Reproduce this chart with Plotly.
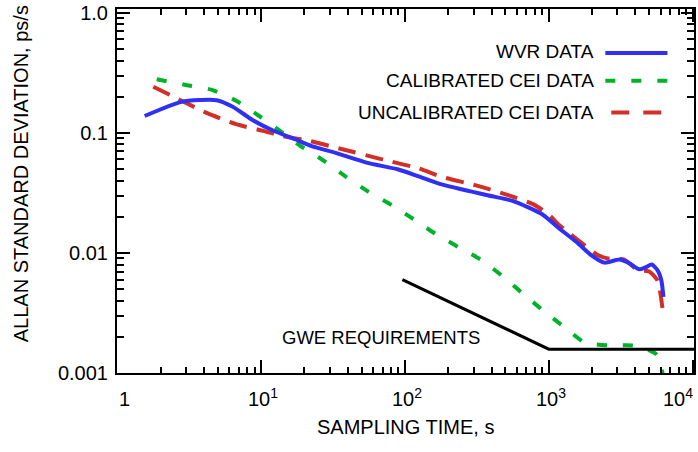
import math
import plotly.graph_objects as go

# ---------------- data ----------------
wvr_x = [1.55, 2.8, 4.9, 6.35, 8.7, 12, 17.4, 22.5, 33, 55, 90, 123, 177, 375, 560, 900,
         1160, 1600, 1970, 2440, 3100, 3630, 4260, 4730, 5200, 5700, 6070, 6270]
wvr_y = [0.138, 0.181, 0.187, 0.165, 0.128, 0.105, 0.088, 0.0775, 0.068, 0.0562, 0.0495, 0.0436,
         0.0374, 0.0302, 0.0271, 0.0210, 0.0163, 0.0120, 0.0096, 0.0083, 0.0088, 0.0082, 0.0073,
         0.0076, 0.0080, 0.0072, 0.0059, 0.0043]

cal_x = [1.88, 3.0, 4.6, 6.7, 9.7, 13.4, 18.4, 28, 39, 56, 81, 118, 162, 235, 341, 470, 645,
         890, 1290, 1770, 2570, 3930, 5600, 6300]
cal_y = [0.279, 0.25, 0.227, 0.185, 0.138, 0.105, 0.079, 0.0573, 0.043, 0.0322, 0.025, 0.0187,
         0.0145, 0.0112, 0.0087, 0.0065, 0.0047, 0.0034, 0.0024, 0.0018, 0.0017, 0.00169,
         0.00143, 0.0009]

uncal_x = [1.78, 2.8, 4.26, 6.7, 10.5, 14.1, 20.5, 35, 73, 125, 180, 307, 522, 800, 1040, 1160,
           1770, 2190, 2570, 3350, 4140, 4990, 5700, 6270]
uncal_y = [0.242, 0.185, 0.145, 0.118, 0.1033, 0.0939, 0.0869, 0.0741, 0.0592, 0.0505, 0.043,
           0.0367, 0.0303, 0.025, 0.020, 0.0174, 0.0116, 0.0096, 0.0090, 0.0088, 0.0072, 0.0070,
           0.0059, 0.0030]

gwe_x = [96, 1000, 20000]
gwe_y = [0.006, 0.00158, 0.00158]

x_tick_vals = [1, 10, 100, 1000, 10000]
x_tick_text = ["1", "10<sup>1</sup>", "10<sup>2</sup>", "10<sup>3</sup>", "10<sup>4</sup>"]
y_tick_vals = [0.001, 0.01, 0.1, 1]
y_tick_text = ["0.001", "0.01", "0.1", "1.0"]

series_names = ["WVR DATA", "CALIBRATED CEI DATA", "UNCALIBRATED CEI DATA"]
x_title = "SAMPLING TIME, s"
y_title = "ALLAN STANDARD DEVIATION, ps/s"
gwe_label = "GWE REQUIREMENTS"

# ---------------- styling ----------------
FONT = "Liberation Sans, Arial, Helvetica, sans-serif"
BLUE = "#2f2ff5"
GREEN = "#00b22a"
RED = "#d32f26"

def minor_vals(lo, hi):
    out = []
    for e in range(lo, hi):
        for m in range(2, 10):
            out.append(m * 10 ** e)
    return out

fig = go.Figure()
fig.add_trace(go.Scatter(x=uncal_x, y=uncal_y, mode="lines",
                         line=dict(color=RED, width=4, dash="18px,10px", shape="spline", smoothing=0.6)))
fig.add_trace(go.Scatter(x=cal_x, y=cal_y, mode="lines",
                         line=dict(color=GREEN, width=4, dash="10px,16px", shape="spline", smoothing=0.6)))
fig.add_trace(go.Scatter(x=wvr_x, y=wvr_y, mode="lines",
                         line=dict(color=BLUE, width=4, shape="spline", smoothing=0.6)))
fig.add_trace(go.Scatter(x=gwe_x, y=gwe_y, mode="lines",
                         line=dict(color="black", width=3)))

axis_common = dict(type="log", showgrid=False, zeroline=False, showline=True, linewidth=2,
                   linecolor="black", mirror="allticks", ticks="inside", ticklen=13,
                   tickwidth=1.5, tickcolor="black")

fig.update_xaxes(**axis_common, range=[-0.002, 4.01], tickmode="array", tickvals=x_tick_vals,
                 showticklabels=False,
                 minor=dict(ticks="inside", ticklen=6, tickwidth=1.5, tickcolor="black",
                            tickmode="array", tickvals=minor_vals(0, 4), showgrid=False))
fig.update_yaxes(**axis_common, range=[-3, 0.031], tickmode="array", tickvals=y_tick_vals,
                 ticktext=y_tick_text, tickfont=dict(family=FONT, size=20, color="black"),
                 ticklabelstandoff=3,
                 minor=dict(ticks="inside", ticklen=7, tickwidth=1.5, tickcolor="black",
                            tickmode="array", tickvals=minor_vals(-3, 0), showgrid=False))

annotations = []
for i, (v, t) in enumerate(zip(x_tick_vals, x_tick_text)):
    if i == 0:
        anchor, shift = "center", 7
    elif i == len(x_tick_vals) - 1:
        anchor, shift = "right", 2
    else:
        anchor, shift = "center", 2
    annotations.append(dict(x=math.log10(v), y=-0.107, xref="x", yref="paper", text=t,
                            showarrow=False, xanchor=anchor, yanchor="bottom", xshift=shift,
                            font=dict(family=FONT, size=20, color="black")))

annotations.append(dict(x=0.5, y=-0.1485, xref="paper", yref="paper", text=x_title,
                        showarrow=False, xanchor="center", yanchor="middle",
                        font=dict(family=FONT, size=20, color="black")))
annotations.append(dict(x=-0.1658, y=0.547, xref="paper", yref="paper", text=y_title,
                        showarrow=False, xanchor="center", yanchor="middle", textangle=-90,
                        font=dict(family=FONT, size=20, color="black")))
annotations.append(dict(x=math.log10(341), y=math.log10(0.00196), xref="x", yref="y",
                        text=gwe_label, showarrow=False, xanchor="right", yanchor="middle",
                        font=dict(family=FONT, size=18.5, color="black")))

legend_y = [0.8826, 0.803, 0.716]
line_y = [0.879, 0.8028, 0.7157]
legend_styles = [
    dict(color=BLUE, dash="solid", x0=0.8463, x1=0.954),
    dict(color=GREEN, dash="10px,16px", x0=0.8463, x1=0.954),
    dict(color=RED, dash="18px,14px", x0=0.8566, x1=0.9447),
]
shapes = []
for name, ty, ly, st in zip(series_names, legend_y, line_y, legend_styles):
    annotations.append(dict(x=0.8307, y=ty, xref="paper", yref="paper", text=name,
                            showarrow=False, xanchor="right", yanchor="middle",
                            font=dict(family=FONT, size=19, color="black")))
    shapes.append(dict(type="line", xref="paper", yref="paper", x0=st["x0"], x1=st["x1"],
                       y0=ly, y1=ly, line=dict(color=st["color"], width=4, dash=st["dash"])))

fig.update_layout(width=698, height=452, margin=dict(l=117, r=2, t=9, b=79),
                  plot_bgcolor="white", paper_bgcolor="white", showlegend=False,
                  annotations=annotations, shapes=shapes,
                  font=dict(family=FONT, size=20, color="black"))

fig.write_html("out.html", config={"displayModeBar": False},
               post_script="document.body.style.margin='0';document.body.style.padding='0';")
